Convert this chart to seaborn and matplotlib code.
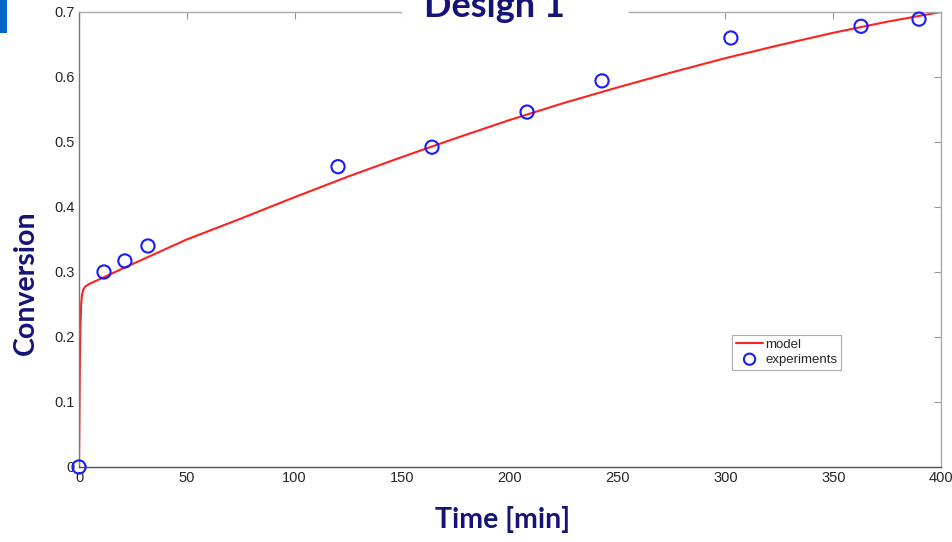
import numpy as np
import pandas as pd
import matplotlib
matplotlib.use('Agg')
import matplotlib.pyplot as plt
import seaborn as sns
from matplotlib.patches import Rectangle

# experiments
exp_time = [0, 11.6, 21.3, 32.0, 120.2, 163.8, 207.9, 242.7, 302.5, 362.9, 389.8]
exp_conv = [0.0, 0.300, 0.317, 0.340, 0.462, 0.492, 0.546, 0.594, 0.660, 0.678, 0.689]

# model curve
model_time = [0, 0.2, 0.4, 0.7, 1.0, 1.4, 2.0, 3.0, 5.0, 11, 20, 32, 50, 75, 100,
              125, 150, 175, 200, 225, 250, 275, 300, 325, 350, 375, 400]
model_conv = [0.0, 0.08, 0.16, 0.22, 0.25, 0.265, 0.273, 0.278, 0.282, 0.291, 0.305,
              0.323, 0.350, 0.382, 0.415, 0.447, 0.477, 0.506, 0.534, 0.560, 0.584,
              0.607, 0.629, 0.649, 0.668, 0.685, 0.700]

df_model = pd.DataFrame({'Time': model_time, 'Conversion': model_conv})
df_exp = pd.DataFrame({'Time': exp_time, 'Conversion': exp_conv})

sns.set_theme(style="white")
plt.rcParams['font.family'] = ['Liberation Sans', 'DejaVu Sans']

fig = plt.figure(figsize=(9.53, 5.42), dpi=100)
ax = fig.add_axes([0.0829, 0.1384, 0.9045, 0.8395])

sns.lineplot(data=df_model, x='Time', y='Conversion', color='#ff2020', linewidth=1.5,
             label='model', ax=ax)
sns.scatterplot(data=df_exp, x='Time', y='Conversion', marker='o', s=90,
                facecolor='none', edgecolor='#1a1aff', linewidth=1.5,
                label='experiments', ax=ax, zorder=3, clip_on=False)

ax.set_xlim(0, 400)
ax.set_ylim(0, 0.7)
ax.set_xticks(np.arange(0, 401, 50))
ax.set_yticks(np.arange(0, 0.71, 0.1))
ax.set_yticklabels(['0', '0.1', '0.2', '0.3', '0.4', '0.5', '0.6', '0.7'])
ax.tick_params(direction='in', length=5, width=0.8, color='#999999',
               top=True, right=True, labelsize=10.5, labelcolor='#262626', pad=3)
for s in ax.spines.values():
    s.set_color('#aaaaaa')
    s.set_linewidth(1.0)
ax.spines['bottom'].set_color('#555555')
ax.spines['left'].set_color('#777777')

ax.set_xlabel('')
ax.set_ylabel('')

leg = ax.legend(loc='lower left', bbox_to_anchor=(0.758, 0.214), fontsize=9.5,
                frameon=True, fancybox=False, edgecolor='#999999',
                handlelength=2.0, handletextpad=0.2, borderpad=0.3,
                labelspacing=0.2, borderaxespad=0, markerscale=0.85)
leg.get_frame().set_linewidth(0.8)

navy = '#131378'
fig.text(0.527, 0.0175, 'Time [min]', ha='center', va='bottom', fontsize=20.5,
         fontweight='bold', color=navy, family='Lato')
fig.text(0.027, 0.478, 'Conversion', ha='center', va='center', rotation=90,
         fontsize=20.5, fontweight='bold', color=navy, family='Lato')
# white band behind the title, over the top spine
fig.patches.append(Rectangle((0.422, 0.955), 0.238, 0.06, transform=fig.transFigure,
                             facecolor='white', edgecolor='none', zorder=5))
t = fig.text(0.519, 0.969, 'Design 1', ha='center', va='baseline', fontsize=26,
             fontweight='bold', color=navy, family='Lato')
t.set_zorder(6)
fig.patches.append(Rectangle((0, 0.939), 0.0073, 0.061, transform=fig.transFigure,
                             facecolor='#0066cc', edgecolor='none', zorder=5))

fig.savefig('out.png', dpi=100)
